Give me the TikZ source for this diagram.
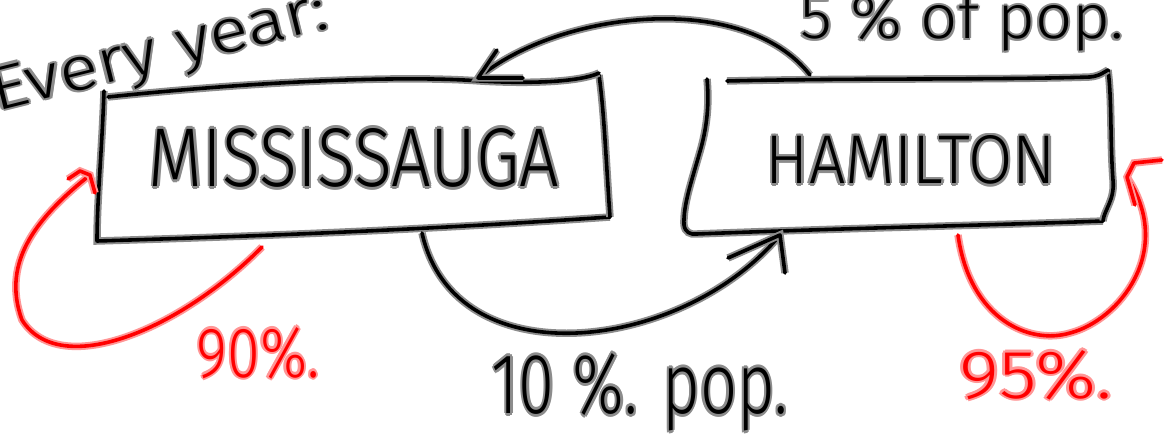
\documentclass[tikz,border=0pt]{standalone}
\usepackage{fontspec}
\setmainfont{Fira Sans Light}
\definecolor{inkhalo}{gray}{0.55}
\definecolor{penred}{RGB}{255,0,0}
\definecolor{redhalo}{RGB}{255,150,150}
% one shifted copy of a text, taking no room
\newcommand{\ghost}[4]{\rlap{\smash{\kern#2\raisebox{#3}{\color{#1}#4}}}}
% text with a soft outline underneath: #1 outline colour, #2 text
\newcommand{\haloed}[2]{%
  \ghost{#1}{.035em}{0em}{#2}\ghost{#1}{-.035em}{0em}{#2}%
  \ghost{#1}{0em}{.035em}{#2}\ghost{#1}{0em}{-.035em}{#2}%
  \ghost{#1}{.025em}{.025em}{#2}\ghost{#1}{-.025em}{.025em}{#2}%
  \ghost{#1}{.025em}{-.025em}{#2}\ghost{#1}{-.025em}{-.025em}{#2}%
  #2}
% text stretched to a given width and height (in px)
\newcommand{\fitted}[4]{\resizebox{#1\dimexpr0.75pt\relax}{#2\dimexpr0.75pt\relax}{\haloed{#3}{#4}}}
\begin{document}
\begin{tikzpicture}[x=0.75pt,y=-0.75pt,
  ink/.style={line width=2.7pt, draw=black, line cap=round, line join=round,
    preaction={draw=inkhalo, line width=5.6pt}},
  redink/.style={line width=2.7pt, draw=penred, line cap=round, line join=round,
    preaction={draw=redhalo, line width=5.6pt}},
  word/.style={inner sep=0pt, outer sep=0pt}]
\fill[white] (0,0) rectangle (1168,434);
\useasboundingbox (0,0) rectangle (1168,434);

% heading
\node[word, rotate=14] (heading) at (160,55) {\fitted{345}{42}{inkhalo}{Every year:}};

% city boxes: labels
\node[word] (miss) at (354,158) {\fitted{410}{58}{inkhalo}{MISSISSAUGA}};
\node[word] (ham) at (911,160) {\fitted{290}{48}{inkhalo}{HAMILTON}};

% Mississauga outline
\draw[ink] (104,91) .. controls (102,150) and (97,200) .. (97,241)
  .. controls (300,235) and (450,228) .. (610,217);
\draw[ink] (610,217) .. controls (606,160) and (604,110) .. (599,75);
\draw[ink] (108,97) .. controls (250,82) and (400,75) .. (480,81)
  .. controls (530,84) and (580,82) .. (599,73);

% Hamilton outline
\draw[ink] (707,79) .. controls (709,100) and (708,122) .. (701,148)
  .. controls (692,180) and (683,205) .. (684,225)
  .. controls (685,232) and (690,235) .. (697,234)
  .. controls (850,228) and (1000,225) .. (1103,221);
\draw[ink] (1103,221) .. controls (1104,210) and (1115,200) .. (1113,180)
  .. controls (1110,140) and (1112,100) .. (1108,70);
\draw[ink] (727,81) .. controls (850,78) and (1000,80) .. (1090,77)
  .. controls (1100,76) and (1104,72) .. (1108,70);

% connector end points on the boxes
\coordinate (hamTop) at (810,75);
\coordinate (missTop) at (478,78);
\coordinate (missBot) at (422,233);
\coordinate (hamBot) at (780,235);
\coordinate (missLoopA) at (262,247);
\coordinate (missLoopB) at (90,175);
\coordinate (hamLoopA) at (958,235);
\coordinate (hamLoopB) at (1127,177);

% Hamilton -> Mississauga
\draw[ink] (hamTop) .. controls (744,-10) and (560,10) .. (missTop);
\draw[ink] (497,50) -- (missTop) -- (523,78);

% Mississauga -> Hamilton
\draw[ink] (missBot) .. controls (455,380) and (683,352) .. (hamBot);
\draw[ink] (728,258) -- (hamBot) -- (785,273);

% Mississauga stays
\draw[redink] (missLoopA) .. controls (180,330) and (60,380) .. (22,320)
  .. controls (0,260) and (40,215) .. (missLoopB);
\draw[redink] (68,179) -- (80,171) -- (missLoopB) -- (95,193);

% Hamilton stays
\draw[redink] (hamLoopA) .. controls (970,320) and (1030,345) .. (1070,333)
  .. controls (1120,320) and (1175,250) .. (hamLoopB);
\draw[redink] (1162,160) -- (1134,163) -- (hamLoopB) -- (1135,205);

% flow labels
\node[word] (flowUp) at (962,22) {\fitted{323}{46}{inkhalo}{5 \% of pop.}};
\node[word] (flowDown) at (640,392) {\fitted{296}{60}{inkhalo}{10 \%. pop.}};
\node[word, text=penred] (stayMiss) at (258,353) {\fitted{123}{50}{redhalo}{90\%.}};
\node[word, text=penred] (stayHam) at (1036,375) {\fitted{153}{48}{redhalo}{95\%.}};
\end{tikzpicture}
\end{document}
